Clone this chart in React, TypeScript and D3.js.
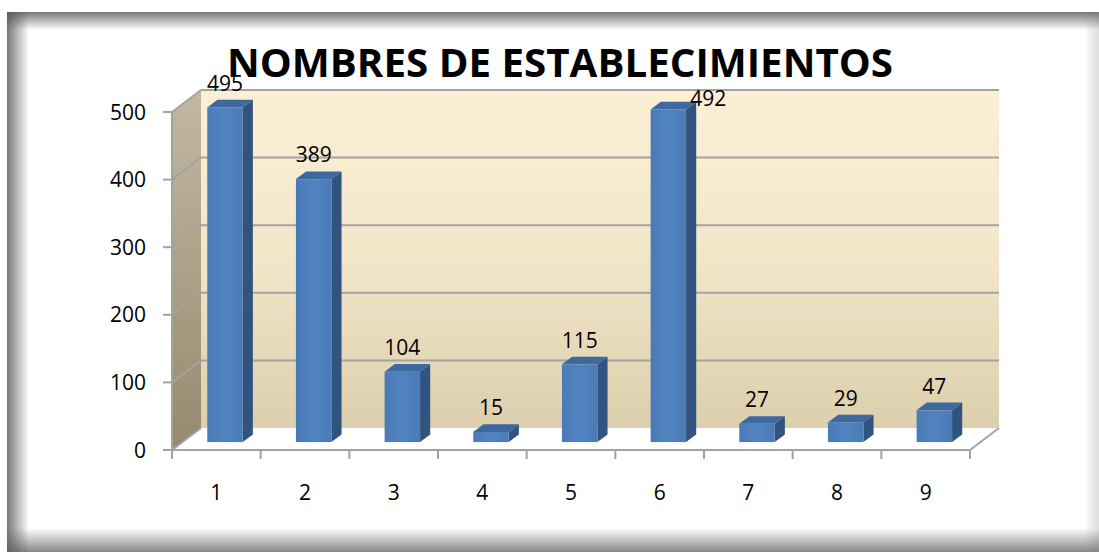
import React from "react";
import * as d3 from "d3";

const title = "NOMBRES DE ESTABLECIMIENTOS";
const categories = ["1", "2", "3", "4", "5", "6", "7", "8", "9"];
const values = [495, 389, 104, 15, 115, 492, 27, 29, 47];
const yTicks = [0, 100, 200, 300, 400, 500];

const W = 1099;
const H = 552;
const DX = 29;
const DY = -22;
const F0 = 0.36;
const F1 = 0.71;
const FONT = "'Open Sans', 'Liberation Sans', sans-serif";
const GRID = "#a3a3a3";

export default function App() {
  const x = d3.scaleBand<string>().domain(categories).range([172, 970]).padding(0);
  const y = d3.scaleLinear().domain([0, 500]).range([450, 112]);
  const bw = x.bandwidth();
  const y0 = y(0);
  const yMax = y(500);
  const xL = x.range()[0];
  const xR = x.range()[1];
  const ddx = (F1 - F0) * DX;
  const ddy = (F1 - F0) * DY;
  const pts = (a: number[][]) => a.map((p) => p.join(",")).join(" ");

  return (
    <svg
      width={W}
      height={H}
      style={{ position: "fixed", left: 0, top: 0, background: "#fff" }}
      fontFamily={FONT}
    >
      <defs>
        <linearGradient id="back" x1="0" y1="0" x2="0" y2="1">
          <stop offset="0" stopColor="#fdefd6" />
          <stop offset="0.5" stopColor="#f2e6c9" />
          <stop offset="1" stopColor="#dccfad" />
        </linearGradient>
        <linearGradient id="side" x1="0" y1="0" x2="0" y2="1">
          <stop offset="0" stopColor="#c2b8a3" />
          <stop offset="1" stopColor="#97896e" />
        </linearGradient>
        <linearGradient id="front" x1="0" y1="0" x2="1" y2="0">
          <stop offset="0" stopColor="#4a7bb6" />
          <stop offset="0.5" stopColor="#5083c0" />
          <stop offset="1" stopColor="#4a7bb7" />
        </linearGradient>
        <linearGradient id="shL" x1="0" y1="0" x2="1" y2="0">
          <stop offset="0" stopColor="#555" stopOpacity="0.8" />
          <stop offset="1" stopColor="#555" stopOpacity="0" />
        </linearGradient>
        <linearGradient id="shT" x1="0" y1="0" x2="0" y2="1">
          <stop offset="0" stopColor="#555" stopOpacity="0.8" />
          <stop offset="1" stopColor="#555" stopOpacity="0" />
        </linearGradient>
        <linearGradient id="shB" x1="0" y1="0" x2="0" y2="1">
          <stop offset="0" stopColor="#555" stopOpacity="0" />
          <stop offset="1" stopColor="#555" stopOpacity="0.7" />
        </linearGradient>
        <linearGradient id="shR" x1="0" y1="0" x2="1" y2="0">
          <stop offset="0" stopColor="#777" stopOpacity="0" />
          <stop offset="1" stopColor="#777" stopOpacity="0.25" />
        </linearGradient>
      </defs>

      {/* frame shadows */}
      <rect x={7} y={12} width={22} height={H - 12} fill="url(#shL)" />
      <rect x={7} y={12} width={W - 7} height={18} fill="url(#shT)" />
      <rect x={7} y={528} width={W - 7} height={24} fill="url(#shB)" />
      <rect x={1084} y={12} width={15} height={H - 12} fill="url(#shR)" />

      {/* back wall */}
      <rect x={xL + DX} y={yMax + DY} width={xR - xL} height={y0 - yMax} fill="url(#back)" />
      {/* left wall */}
      <polygon
        points={pts([[xL, y0], [xL, yMax], [xL + DX, yMax + DY], [xL + DX, y0 + DY]])}
        fill="url(#side)"
      />
      {/* floor */}
      <polygon
        points={pts([[xL, y0], [xR, y0], [xR + DX, y0 + DY], [xL + DX, y0 + DY]])}
        fill="#ffffff"
      />

      {/* gridlines */}
      {yTicks.map((t) => (
        <g key={t} stroke={GRID} strokeWidth={2} fill="none">
          {t > 0 && <line x1={xL + DX} x2={xR + DX} y1={y(t) + DY} y2={y(t) + DY} />}
          <line x1={xL} x2={xL + DX} y1={y(t)} y2={y(t) + DY} />
          <line x1={xL - 9} x2={xL} y1={y(t)} y2={y(t)} />
        </g>
      ))}
      <line x1={xL} x2={xL} y1={yMax} y2={y0} stroke={GRID} strokeWidth={2} />
      <line x1={xL} x2={xR} y1={y0} y2={y0} stroke={GRID} strokeWidth={2} />
      <line x1={xR} x2={xR + DX} y1={y0} y2={y0 + DY} stroke={GRID} strokeWidth={2} />
      {[...categories.map((c) => x(c)!), xR].map((xx, i) => (
        <line key={i} x1={xx} x2={xx} y1={y0} y2={y0 + 9} stroke={GRID} strokeWidth={2} />
      ))}

      {/* bars */}
      {categories.map((c, i) => {
        const v = values[i];
        const xl = x(c)! + F0 * DX + 0.28 * bw;
        const xr = xl + 0.4 * bw;
        const yb = y0 + F0 * DY;
        const yt = y(v) + F0 * DY;
        return (
          <g key={c}>
            <polygon
              points={pts([[xr, yb], [xr, yt], [xr + ddx, yt + ddy], [xr + ddx, yb + ddy]])}
              fill="#30547f"
            />
            <polygon
              points={pts([[xl, yt], [xr, yt], [xr + ddx, yt + ddy], [xl + ddx, yt + ddy]])}
              fill="#3d699e"
            />
            <rect x={xl} y={yt} width={xr - xl} height={yb - yt} fill="url(#front)" />
          </g>
        );
      })}

      {/* value labels */}
      {categories.map((c, i) => {
        const v = values[i];
        const xl = x(c)! + F0 * DX + 0.28 * bw;
        const cx = xl + 0.2 * bw;
        const yt = y(v) + F0 * DY + ddy;
        const shifted = v === 492;
        return (
          <text
            key={c}
            x={shifted ? cx + 40 : cx}
            y={shifted ? yt + 4 : yt - 9}
            textAnchor="middle"
            fontSize={21}
            fill="#000"
          >
            {v}
          </text>
        );
      })}

      {/* y tick labels */}
      {yTicks.map((t) => (
        <text key={t} x={146} y={y(t) + 7.5} textAnchor="end" fontSize={21} fill="#000">
          {t}
        </text>
      ))}

      {/* category labels */}
      {categories.map((c) => (
        <text key={c} x={x(c)! + bw / 2} y={500} textAnchor="middle" fontSize={21} fill="#000">
          {c}
        </text>
      ))}

      {/* title */}
      <text
        x={560}
        y={77}
        textAnchor="middle"
        fontSize={40}
        fontWeight="bold"
        fill="#000"
        textLength={666}
        lengthAdjust="spacingAndGlyphs"
      >
        {title}
      </text>
    </svg>
  );
}
